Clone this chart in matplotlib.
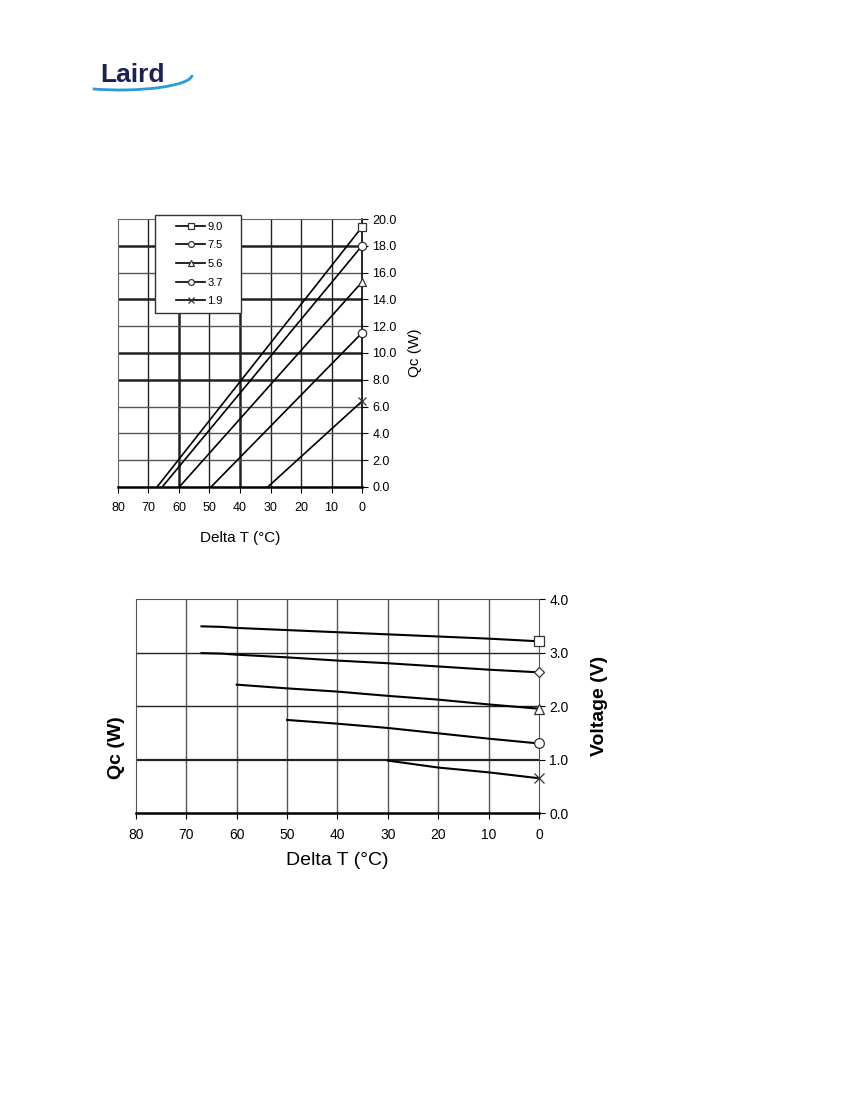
import numpy as np
import matplotlib.pyplot as plt
from matplotlib.patches import Arc, Rectangle

plt.rcParams['font.family'] = ['Liberation Sans', 'DejaVu Sans']

# series labels (current, A) and end markers
labels = ['9.0', '7.5', '5.6', '3.7', '1.9']
markers = ['s', 'o', '^', 'o', 'x']

# top chart: Qc (W) vs Delta T, straight lines from dTmax to Qmax
qc_dt = [[67.2, 0], [65.5, 0], [59.9, 0], [49.5, 0], [30.9, 0]]
qc_val = [[0, 19.4], [0, 18.0], [0, 15.3], [0, 11.5], [0, 6.4]]

# bottom chart: Voltage (V) vs Delta T
v_dt = [
    [67, 63, 60, 50, 40, 30, 20, 10, 0],
    [67, 63, 60, 50, 40, 30, 20, 10, 0],
    [60, 50, 40, 30, 20, 10, 0],
    [50, 40, 30, 20, 10, 0],
    [30, 20, 10, 0],
]
v_val = [
    [3.49, 3.48, 3.46, 3.42, 3.38, 3.34, 3.30, 3.26, 3.21],
    [2.99, 2.98, 2.96, 2.91, 2.85, 2.80, 2.74, 2.68, 2.63],
    [2.40, 2.33, 2.27, 2.19, 2.12, 2.03, 1.95],
    [1.74, 1.67, 1.59, 1.49, 1.39, 1.30],
    [0.98, 0.85, 0.76, 0.65],
]

fig = plt.figure(figsize=(8.5, 11), dpi=100)

# logo (axes in pixel-like units: 110 x 40 px)
lax = fig.add_axes([90 / 850, 1 - 95 / 1100, 110 / 850, 40 / 1100])
lax.set_xlim(0, 110)
lax.set_ylim(0, 40)
lax.axis('off')
lax.text(10, 13, 'Laird', fontsize=19, fontweight='bold', color='#1c2150', va='baseline')
lax.add_patch(Arc((30, 20), 144, 30, theta1=207, theta2=360, color='#2a9ad8', lw=2.0))

# ---- top chart ----
ax1 = fig.add_axes([0.1388, 0.5573, 0.2871, 0.2436])
for i in range(len(labels)):
    ax1.plot(qc_dt[i], qc_val[i], color='black', lw=1.2, marker=markers[i],
             markevery=[1], markersize=6, markerfacecolor='white',
             markeredgecolor='#333333', markeredgewidth=0.9, label=labels[i],
             clip_on=False, zorder=3)
ax1.set_xlim(80, 0)
ax1.set_ylim(0, 20)
ax1.set_xticks(np.arange(0, 81, 10))
ax1.set_yticks(np.arange(0, 20.1, 2))
ax1.set_yticklabels(['%.1f' % v for v in np.arange(0, 20.1, 2)])
ax1.yaxis.tick_right()
ax1.yaxis.set_label_position('right')
for x in range(10, 80, 10):
    ax1.axvline(x, color='#222222', lw=1.8 if x in (40, 60) else 1.0, zorder=0)
for y in range(2, 20, 2):
    ax1.axhline(y, color='#222222' if y in (8, 10, 14, 18) else '#555555',
                lw=1.8 if y in (8, 10, 14, 18) else 1.0, zorder=0)
ax1.tick_params(axis='both', labelsize=9, direction='out', length=4, colors='black')
ax1.tick_params(axis='x', pad=7)
ax1.spines['bottom'].set_linewidth(1.8)
ax1.spines['right'].set_linewidth(1.2)
ax1.spines['left'].set_color('#666666')
ax1.spines['top'].set_color('#666666')
ax1.set_xlabel('Delta T (°C)', fontsize=11, labelpad=12)
ax1.set_ylabel('Qc (W)', fontsize=11, labelpad=8)
ax1.add_patch(Rectangle((0.152, 0.649), 0.352, 0.366, transform=ax1.transAxes,
                        facecolor='white', edgecolor='#333333', lw=1.0,
                        clip_on=False, zorder=4))
leg = ax1.legend(loc='upper left', bbox_to_anchor=(0.238, 0.99), fontsize=8,
                 frameon=False, handlelength=2.6, labelspacing=0.78, borderpad=0,
                 handletextpad=0.2, markerscale=0.7, borderaxespad=0)
leg.set_zorder(5)

# ---- bottom chart ----
ax2 = fig.add_axes([0.16, 0.2609, 0.4741, 0.1945])
mk2 = ['s', 'D', '^', 'o', 'x']
for i in range(len(labels)):
    ax2.plot(v_dt[i], v_val[i], color='black', lw=1.5)
    ax2.plot(v_dt[i][-1], v_val[i][-1], marker=mk2[i], markersize=7 if mk2[i] != 'D' else 5.5,
             markerfacecolor='white', markeredgecolor='#333333', markeredgewidth=0.9,
             linestyle='none', clip_on=False, zorder=5)
ax2.set_xlim(80, 0)
ax2.set_ylim(0, 4)
ax2.set_xticks(np.arange(0, 81, 10))
ax2.set_yticks(np.arange(0, 4.01, 1))
ax2.set_yticklabels(['%.1f' % v for v in np.arange(0, 4.01, 1)])
ax2.yaxis.tick_right()
ax2.yaxis.set_label_position('right')
for x in range(10, 80, 10):
    ax2.axvline(x, color='#555555', lw=1.0, zorder=0)
for y in (1, 2, 3):
    ax2.axhline(y, color='#222222', lw=1.6 if y == 1 else 1.0, zorder=0)
ax2.tick_params(axis='both', labelsize=10, direction='out', length=4, colors='black')
ax2.tick_params(axis='x', pad=7)
ax2.spines['bottom'].set_linewidth(1.8)
for s in ('left', 'top', 'right'):
    ax2.spines[s].set_color('#555555')
ax2.set_xlabel('Delta T (°C)', fontsize=14, labelpad=7)
ax2.set_ylabel('Voltage (V)', fontsize=14, fontweight='bold', labelpad=16)
fig.text(117 / 850, 1 - 748 / 1100, 'Qc (W)', rotation=90, fontsize=14, fontweight='bold',
         ha='center', va='center')

fig.savefig('out.png', dpi=100)
